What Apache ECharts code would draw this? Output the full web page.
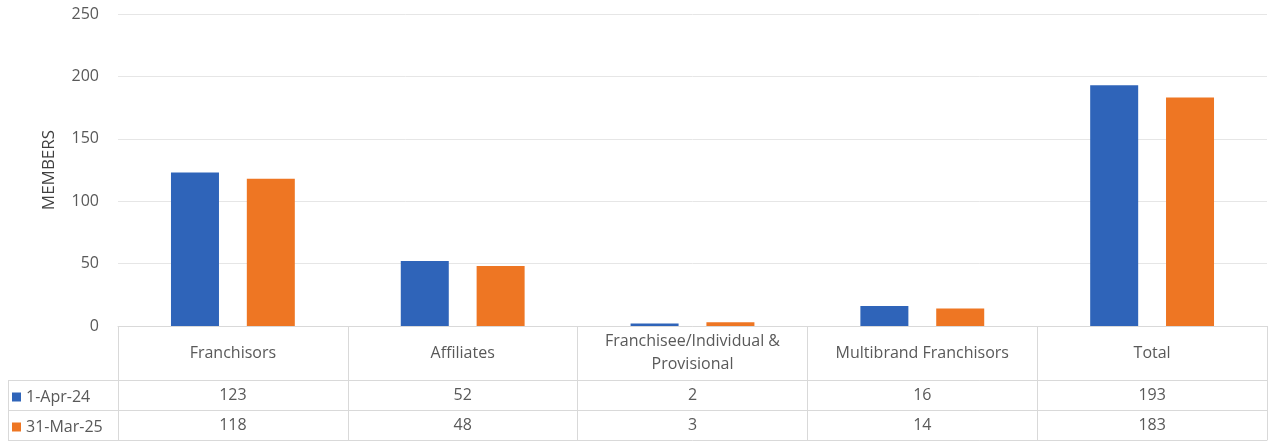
<!DOCTYPE html>
<html>
<head>
<meta charset="utf-8">
<script src="https://cdn.jsdelivr.net/npm/echarts@6/dist/echarts.min.js"></script>
<style>
  html, body { margin: 0; padding: 0; background: #fff; }
  #main { width: 1268px; height: 443px; }
</style>
</head>
<body>
<div id="main"></div>
<script>
var myChart = echarts.init(document.getElementById('main'));

var categories = ['Franchisors', 'Affiliates', 'Franchisee/Individual & Provisional', 'Multibrand Franchisors', 'Total'];
var seriesNames = ['1-Apr-24', '31-Mar-25'];
var apr24 = [123, 52, 2, 16, 193];
var mar25 = [118, 48, 3, 14, 183];

var txt = '#595959';
var border = '#d9d9d9';
var font = 'Open Sans';

var option = {
  textStyle: { fontFamily: font },
  color: ['#2F64B9', '#EE7623'],
  animation: false,
  grid: { left: 118, right: 1, top: 14, bottom: 117 },
  legend: {
    orient: 'vertical',
    left: 7,
    top: 384,
    itemGap: 14,
    itemWidth: 9,
    itemHeight: 9,
    icon: 'rect',
    selectedMode: false,
    textStyle: { color: txt, fontSize: 16, fontFamily: font },
    data: seriesNames
  },
  xAxis: [
    {
      type: 'category',
      data: categories,
      axisLine: { lineStyle: { color: border } },
      axisTick: { show: true, interval: 0, length: 114, lineStyle: { color: border } },
      axisLabel: {
        interval: 0, color: txt, fontSize: 16, margin: 27,
        verticalAlign: 'middle', lineHeight: 23,
        formatter: function (v) { return v.replace('& ', '&\n'); }
      }
    },
    {
      type: 'category',
      data: apr24.map(String),
      position: 'bottom',
      offset: 54,
      axisLine: { lineStyle: { color: border } },
      axisTick: { show: false },
      axisLabel: { interval: 0, color: txt, fontSize: 16, margin: 15, verticalAlign: 'middle' }
    },
    {
      type: 'category',
      data: mar25.map(String),
      position: 'bottom',
      offset: 84,
      axisLine: { lineStyle: { color: border } },
      axisTick: { show: false },
      axisLabel: { interval: 0, color: txt, fontSize: 16, margin: 15, verticalAlign: 'middle' }
    },
    {
      type: 'category',
      data: categories,
      position: 'bottom',
      offset: 114,
      axisLine: { lineStyle: { color: border } },
      axisTick: { show: false },
      axisLabel: { show: false }
    }
  ],
  yAxis: {
    type: 'value',
    min: 0,
    max: 250,
    interval: 50,
    name: 'MEMBERS',
    nameLocation: 'middle',
    nameRotate: 90,
    nameGap: 60,
    nameTextStyle: { color: '#404040', fontSize: 17, fontFamily: font },
    axisLabel: { color: txt, fontSize: 16, margin: 19 },
    axisLine: { show: false },
    axisTick: { show: false },
    splitLine: { lineStyle: { color: '#e6e6e6' } }
  },
  graphic: [
    { type: 'line', shape: { x1: 8, y1: 380.5, x2: 118, y2: 380.5 }, style: { stroke: border, lineWidth: 1 } },
    { type: 'line', shape: { x1: 8, y1: 410.5, x2: 118, y2: 410.5 }, style: { stroke: border, lineWidth: 1 } },
    { type: 'line', shape: { x1: 8, y1: 440.5, x2: 118, y2: 440.5 }, style: { stroke: border, lineWidth: 1 } },
    { type: 'line', shape: { x1: 8.5, y1: 380, x2: 8.5, y2: 441 }, style: { stroke: border, lineWidth: 1 } }
  ],
  series: [
    { name: seriesNames[0], type: 'bar', data: apr24, barWidth: 48, barGap: '58%' },
    { name: seriesNames[1], type: 'bar', data: mar25, barWidth: 48, barGap: '58%' }
  ]
};
myChart.setOption(option);
</script>
</body>
</html>
